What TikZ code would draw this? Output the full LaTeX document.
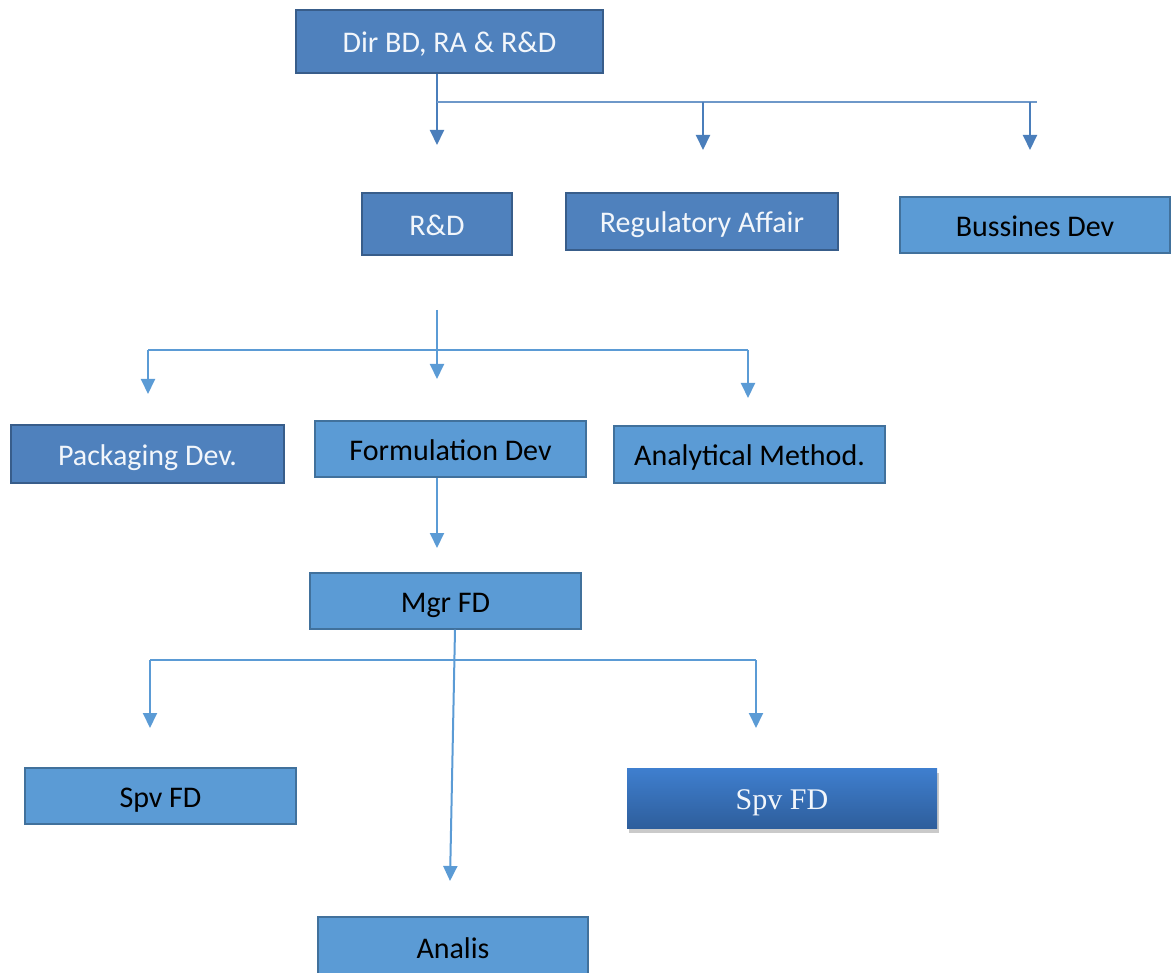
\documentclass[tikz,border=0pt]{standalone}
\usepackage{fontspec}
\setmainfont{Carlito}
\newfontfamily\serifface{Liberation Serif}
\usetikzlibrary{arrows.meta,shadows}

\definecolor{boxdark}{HTML}{4F81BD}
\definecolor{edgedark}{HTML}{385D8A}
\definecolor{boxlight}{HTML}{5B9BD5}
\definecolor{edgelight}{HTML}{41719C}
\definecolor{lightink}{HTML}{F2F6FB}
\definecolor{gradtop}{HTML}{3F7FCF}
\definecolor{gradbot}{HTML}{2E5E9C}
\definecolor{linkdark}{HTML}{4A7EBB}
\definecolor{linklight}{HTML}{5B9BD5}

\tikzset{
  orgbox/.style={rectangle, inner sep=0pt, text height=24.5pt, text depth=2pt,
    font=\fontsize{30}{34}\selectfont},
  darkbox/.style={orgbox, fill=boxdark, draw=edgedark, line width=2.2pt, text=lightink},
  lightbox/.style={orgbox, fill=boxlight, draw=edgelight, line width=1.2pt, text=black},
  shadedbox/.style={orgbox, top color=gradtop, bottom color=gradbot, draw=none,
    text=lightink, font=\serifface\fontsize{30}{34}\selectfont,
    drop shadow={shadow xshift=2pt, shadow yshift=-5pt, opacity=0.35, fill=black!60}},
  link/.style={line width=2pt},
  arrowlink/.style={link, -{Triangle[width=14pt,length=15pt]}},
}

\begin{document}
\begin{tikzpicture}[x=1pt, y=-1pt]
  \useasboundingbox (0,0) rectangle (1176,973);
  \clip (0,0) rectangle (1176,973);

  % first level
  \node[darkbox, minimum width=307pt, minimum height=63pt] (dir) at (449.5,41.5) {Dir BD, RA \& R\&D};

  % second level
  \node[darkbox, minimum width=150pt, minimum height=62pt] (rd) at (437,224) {R\&D};
  \node[darkbox, minimum width=272pt, minimum height=57pt] (ra) at (702,221.5) {Regulatory Affair};
  \node[lightbox, minimum width=270pt, minimum height=56pt] (bd) at (1035,225) {Bussines Dev};

  % third level
  \node[darkbox, minimum width=273pt, minimum height=58pt] (pd) at (147.5,454) {Packaging Dev.};
  \node[lightbox, minimum width=271pt, minimum height=56pt] (fd) at (450.5,449) {Formulation Dev};
  \node[lightbox, minimum width=271pt, minimum height=57pt] (am) at (749.5,454.5) {Analytical Method.};

  % formulation branch
  \node[lightbox, minimum width=271pt, minimum height=56pt] (mgr) at (445.5,601) {Mgr FD};
  \node[lightbox, minimum width=271pt, minimum height=56pt] (spl) at (160.5,796) {Spv FD};
  \node[shadedbox, minimum width=310pt, minimum height=60pt] (spr) at (782,798) {Spv FD};
  \node[lightbox, minimum width=270pt, minimum height=60pt] (an) at (453,947) {Analis};

  % branch from the director
  \coordinate (t1) at (437,145);
  \coordinate (t2) at (703,150);
  \coordinate (t3) at (1030,150);
  \coordinate (b1) at (437,102);
  \coordinate (b2) at (703,102);
  \coordinate (b3) at (1030,102);
  \coordinate (b4) at (1037,102);
  \draw[arrowlink, linkdark] (t1 |- dir.south) -- (t1);
  \draw[link, linkdark!80] (b1) -- (b4);
  \draw[arrowlink, linkdark] (b2) -- (t2);
  \draw[arrowlink, linkdark] (b3) -- (t3);

  % branch from R&D
  \coordinate (r0) at (437,310);
  \coordinate (r1) at (437,379);
  \coordinate (h1) at (148,350);
  \coordinate (h2) at (748,350);
  \coordinate (p1) at (148,394);
  \coordinate (p2) at (748,398);
  \draw[arrowlink, linklight] (r0) -- (r1);
  \draw[link, linklight] (h1) -- (h2);
  \draw[arrowlink, linklight] (h1) -- (p1);
  \draw[arrowlink, linklight] (h2) -- (p2);

  % formulation to manager
  \coordinate (f1) at (437,548);
  \draw[arrowlink, linklight] (f1 |- fd.south) -- (f1);

  % branch from the manager
  \coordinate (m0) at (455,629);
  \coordinate (m1) at (450,881);
  \coordinate (k1) at (150,660);
  \coordinate (k2) at (756,660);
  \coordinate (q1) at (150,728);
  \coordinate (q2) at (756,728);
  \draw[arrowlink, linklight] (m0 |- mgr.south) -- (m1);
  \draw[link, linklight] (k1) -- (k2);
  \draw[arrowlink, linklight] (k1) -- (q1);
  \draw[arrowlink, linklight] (k2) -- (q2);
\end{tikzpicture}
\end{document}
